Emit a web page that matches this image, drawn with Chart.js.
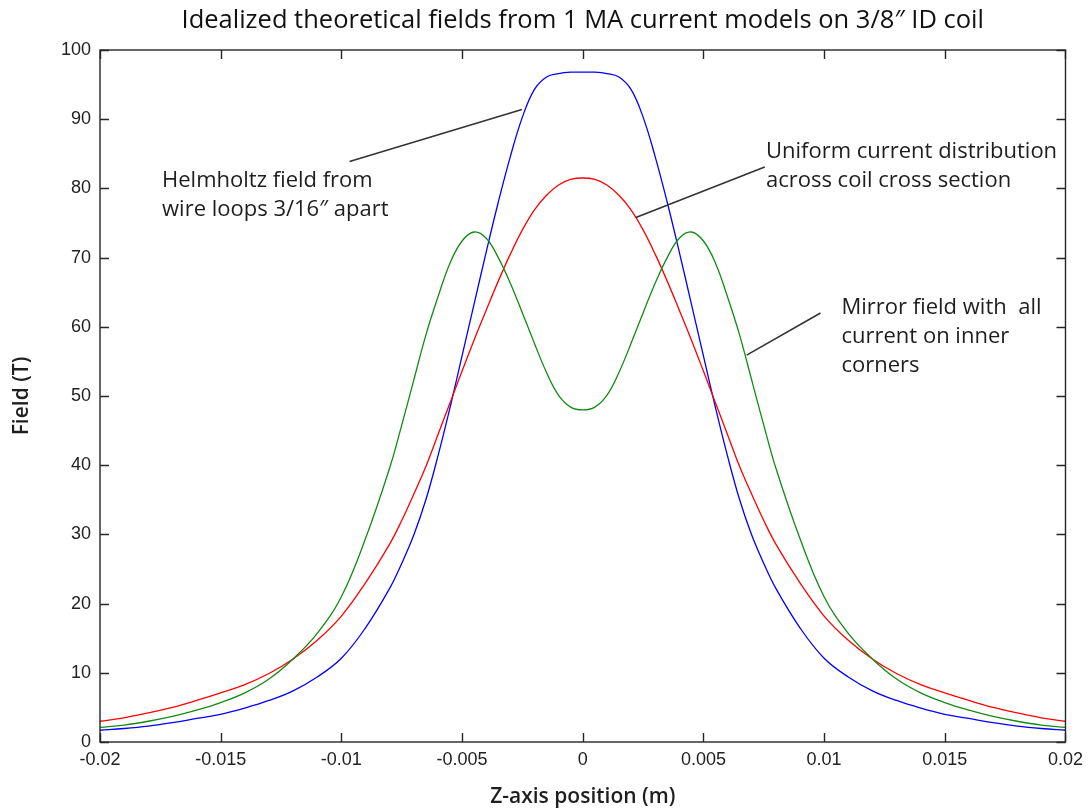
<!DOCTYPE html>
<html>
<head>
<meta charset="utf-8">
<script src="https://cdn.jsdelivr.net/npm/chart.js@4.4.1/dist/chart.umd.min.js"></script>
<style>
  html, body { margin: 0; padding: 0; background: #ffffff; }
  #wrap { width: 1090px; height: 812px; }
</style>
</head>
<body>
<div id="wrap"><canvas id="c" width="1090" height="812"></canvas></div>
<script>
// ---- Data ----
const zPos = [-0.02,-0.019,-0.018,-0.017,-0.016,-0.015,-0.014,-0.013,-0.012,-0.011,-0.010,-0.009,-0.008,-0.0075,-0.007,-0.0065,-0.006,-0.0055,-0.005,-0.0045,-0.004,-0.0035,-0.003,-0.0025,-0.002,-0.0015,-0.001,-0.0005,0,
  0.0005,0.001,0.0015,0.002,0.0025,0.003,0.0035,0.004,0.0045,0.005,0.0055,0.006,0.0065,0.007,0.0075,0.008,0.009,0.010,0.011,0.012,0.013,0.014,0.015,0.016,0.017,0.018,0.019,0.02];

const helmholtzField = [1.7,1.95,2.3,2.8,3.4,4.0,4.9,6.0,7.4,9.4,12.1,16.5,22.2,25.8,29.9,35.0,41.3,48.3,55.8,63.3,70.8,78.0,84.6,90.3,94.3,96.1,96.6,96.8,96.8,
  96.8,96.6,96.1,94.3,90.3,84.6,78.0,70.8,63.3,55.8,48.3,41.3,35.0,29.9,25.8,22.2,16.5,12.1,9.4,7.4,6.0,4.9,4.0,3.4,2.8,2.3,1.95,1.7];

const uniformField = [3.0,3.5,4.2,5.0,6.0,7.1,8.3,9.9,12.0,14.7,18.2,23,28.6,32,35.8,39.8,44.4,49.0,53.6,58.1,62.4,66.6,70.5,74.0,76.9,79.0,80.5,81.3,81.5,
  81.3,80.5,79.0,76.9,74.0,70.5,66.6,62.4,58.1,53.6,49.0,44.4,39.8,35.8,32,28.6,23,18.2,14.7,12.0,9.9,8.3,7.1,6.0,5.0,4.2,3.5,3.0];

const mirrorField = [2.1,2.45,3.0,3.7,4.6,5.7,7.1,9.1,12.0,15.7,21.0,29.4,39.6,45.8,52.3,58.8,64.3,69.2,72.4,73.7,72.8,70,66.3,62,57.6,53.4,50.1,48.4,48.0,
  48.4,50.1,53.4,57.6,62,66.3,70,72.8,73.7,72.4,69.2,64.3,58.8,52.3,45.8,39.6,29.4,21.0,15.7,12.0,9.1,7.1,5.7,4.6,3.7,3.0,2.45,2.1];

const xTickLabels = ['-0.02','-0.015','-0.01','-0.005','0','0.005','0.01','0.015','0.02'];
const yTickLabels = ['0','10','20','30','40','50','60','70','80','90','100'];

const titleText = 'Idealized theoretical fields from 1 MA current models on 3/8\u2033 ID coil';
const xTitle = 'Z-axis position (m)';
const yTitle = 'Field (T)';

// annotation texts, anchored in data coordinates
const annoTexts = [
  { lines: ['Helmholtz field from', 'wire loops 3/16\u2033 apart'], x: -0.01743, y: 81.1 },
  { lines: ['Uniform current distribution', 'across coil cross section'], x: 0.00759, y: 85.3 },
  { lines: ['Mirror field with  all', 'current on inner', 'corners'], x: 0.01072, y: 62.7 }
];
const annoLeaders = [
  { x1: -0.00966, y1: 83.9, x2: -0.00252, y2: 91.4 },
  { x1: 0.00754, y1: 83.1, x2: 0.00220, y2: 75.8 },
  { x1: 0.00985, y1: 62.0, x2: 0.00679, y2: 55.9 }
];

const xMin = -0.02, xMax = 0.02, xStep = 0.005;
const yMin = 0, yMax = 100, yStep = 10;

function pts(ys) { return zPos.map((z, i) => ({ x: z, y: ys[i] })); }

const frameColor = '#262626';
const textColor = '#1e1e1e';

const framePlugin = {
  id: 'matlabFrame',
  afterDatasetsDraw(chart) {
    const ctx = chart.ctx;
    const { left, right, top, bottom } = chart.chartArea;
    const xs = chart.scales.x, ys = chart.scales.y;
    ctx.save();
    ctx.strokeStyle = frameColor;
    ctx.lineWidth = 1.4;
    ctx.strokeRect(left, top, right - left, bottom - top);
    const tl = 9;
    ctx.beginPath();
    for (let i = 0; i < xTickLabels.length; i++) {
      const px = Math.round(xs.getPixelForValue(xMin + i * xStep)) + 0.5;
      ctx.moveTo(px, bottom); ctx.lineTo(px, bottom - tl);
      ctx.moveTo(px, top); ctx.lineTo(px, top + tl);
    }
    for (let i = 0; i < yTickLabels.length; i++) {
      const py = Math.round(ys.getPixelForValue(yMin + i * yStep)) + 0.5;
      ctx.moveTo(left, py); ctx.lineTo(left + tl, py);
      ctx.moveTo(right, py); ctx.lineTo(right - tl, py);
    }
    ctx.stroke();

    // leader lines
    ctx.strokeStyle = '#333333';
    ctx.lineWidth = 1.6;
    ctx.beginPath();
    annoLeaders.forEach(l => {
      ctx.moveTo(xs.getPixelForValue(l.x1), ys.getPixelForValue(l.y1));
      ctx.lineTo(xs.getPixelForValue(l.x2), ys.getPixelForValue(l.y2));
    });
    ctx.stroke();

    // annotation text
    ctx.fillStyle = textColor;
    ctx.font = '22px "Open Sans"';
    ctx.textAlign = 'left';
    ctx.textBaseline = 'middle';
    annoTexts.forEach(a => {
      const px = xs.getPixelForValue(a.x);
      const py = ys.getPixelForValue(a.y);
      a.lines.forEach((t, k) => ctx.fillText(t, px, py + k * 29));
    });
    ctx.restore();
  }
};

const lineStyle = { borderWidth: 1.3, pointRadius: 0, fill: false, tension: 0.4 };

new Chart(document.getElementById('c'), {
  type: 'line',
  data: {
    datasets: [
      Object.assign({ label: 'Mirror field', data: pts(mirrorField), borderColor: '#138a13' }, lineStyle),
      Object.assign({ label: 'Uniform current', data: pts(uniformField), borderColor: '#ff0000' }, lineStyle),
      Object.assign({ label: 'Helmholtz', data: pts(helmholtzField), borderColor: '#0000ff' }, lineStyle)
    ]
  },
  options: {
    responsive: false,
    animation: false,
    devicePixelRatio: 1,
    layout: { padding: { left: 0, right: 23, top: 0, bottom: 0 } },
    plugins: {
      legend: { display: false },
      tooltip: { enabled: false },
      title: {
        display: true,
        text: titleText,
        fullSize: false,
        color: '#111111',
        font: { family: '"Open Sans"', size: 25.5, weight: 'normal', lineHeight: 1.2 },
        padding: { top: 5, bottom: 14.4 }
      }
    },
    scales: {
      x: {
        type: 'linear',
        min: xMin, max: xMax,
        grid: { display: false, drawTicks: false },
        border: { display: false },
        ticks: {
          stepSize: xStep,
          autoSkip: false,
          maxRotation: 0,
          padding: 7,
          color: '#222222',
          font: { family: '"Liberation Sans"', size: 18 },
          callback: (v) => xTickLabels[Math.round((v - xMin) / xStep)]
        },
        title: {
          display: true, text: xTitle, color: textColor,
          font: { family: '"Open Sans"', size: 21, weight: '600', lineHeight: 1.2 },
          padding: { top: 0, bottom: 2.5 }
        },
        afterFit: (s) => { s.height = 70; }
      },
      y: {
        min: yMin, max: yMax,
        grid: { display: false, drawTicks: false },
        border: { display: false },
        ticks: {
          stepSize: yStep,
          autoSkip: false,
          padding: 9,
          color: '#222222',
          font: { family: '"Liberation Sans"', size: 18 },
          callback: (v) => yTickLabels[Math.round((v - yMin) / yStep)]
        },
        title: {
          display: true, text: yTitle, color: textColor,
          font: { family: '"Open Sans"', size: 21, weight: '600', lineHeight: 1.2 },
          padding: { top: 9.4, bottom: 0 }
        },
        afterFit: (s) => { s.width = 100; }
      }
    }
  },
  plugins: [framePlugin]
});
</script>
</body>
</html>
